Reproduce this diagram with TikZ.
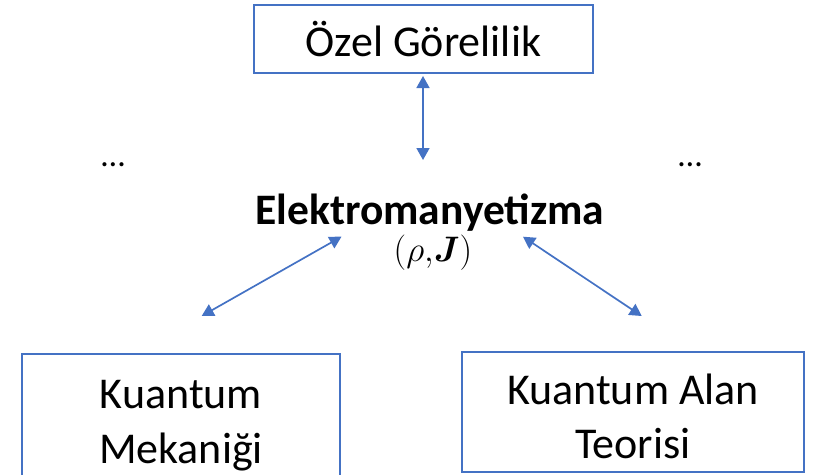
\documentclass[tikz,border=0pt]{standalone}
\usepackage{amsmath}
\usepackage{bm}
\usepackage{fontspec}
\setmainfont{Carlito}
\usetikzlibrary{arrows.meta}
\definecolor{obl}{HTML}{4472C4}
\begin{document}
\begin{tikzpicture}[x=1pt,y=-1pt,
  box/.style={draw=obl,line width=1.7pt,inner sep=0pt,align=center,font=\fontsize{44}{55}\selectfont},
  link/.style={draw=obl,line width=1.7pt,{Triangle[length=12pt,width=13pt]}-{Triangle[length=12pt,width=13pt]}},
  dots/.style={font=\fontsize{34}{38}\selectfont,anchor=base,inner sep=0pt}]
\useasboundingbox (0,0) rectangle (814,474);
\node[box,minimum width=339pt,minimum height=68pt,text height=35.4pt,text depth=0pt] (sr) at (423.5,39) {Özel Görelilik};
\node[box,minimum width=318pt,minimum height=136pt,text height=0pt,text depth=28pt] (qm) at (181,422)
  {\begin{tabular}[t]{@{}c@{}}Kuantum\\Mekaniği\end{tabular}};
\node[box,minimum width=342pt,minimum height=120pt,text height=0pt,text depth=16pt] (qft) at (633,412)
  {\begin{tabular}[t]{@{}c@{}}Kuantum Alan\\[-1pt]Teorisi\end{tabular}};
\node[font=\fontsize{43.5}{50}\selectfont\bfseries,anchor=base,inner sep=0pt] (em) at (430,224.3) {Elektromanyetizma};
\node[font=\LARGE,scale=2.05,transform shape,anchor=base,inner sep=0pt] (rj) at (433,261) {$(\rho{,}\bm{J})$};
\node[dots] (d1) at (113,166) {…};
\node[dots] (d2) at (690,166) {…};
\coordinate (a1) at (423,76);
\coordinate (a2) at (423,160);
\coordinate (b1) at (341.5,236.7);
\coordinate (b2) at (201.7,316);
\coordinate (c1) at (523,236.7);
\coordinate (c2) at (641.7,316);
\draw[link] (a1) -- (a2);
\draw[link] (b1) -- (b2);
\draw[link] (c1) -- (c2);
\end{tikzpicture}
\end{document}
